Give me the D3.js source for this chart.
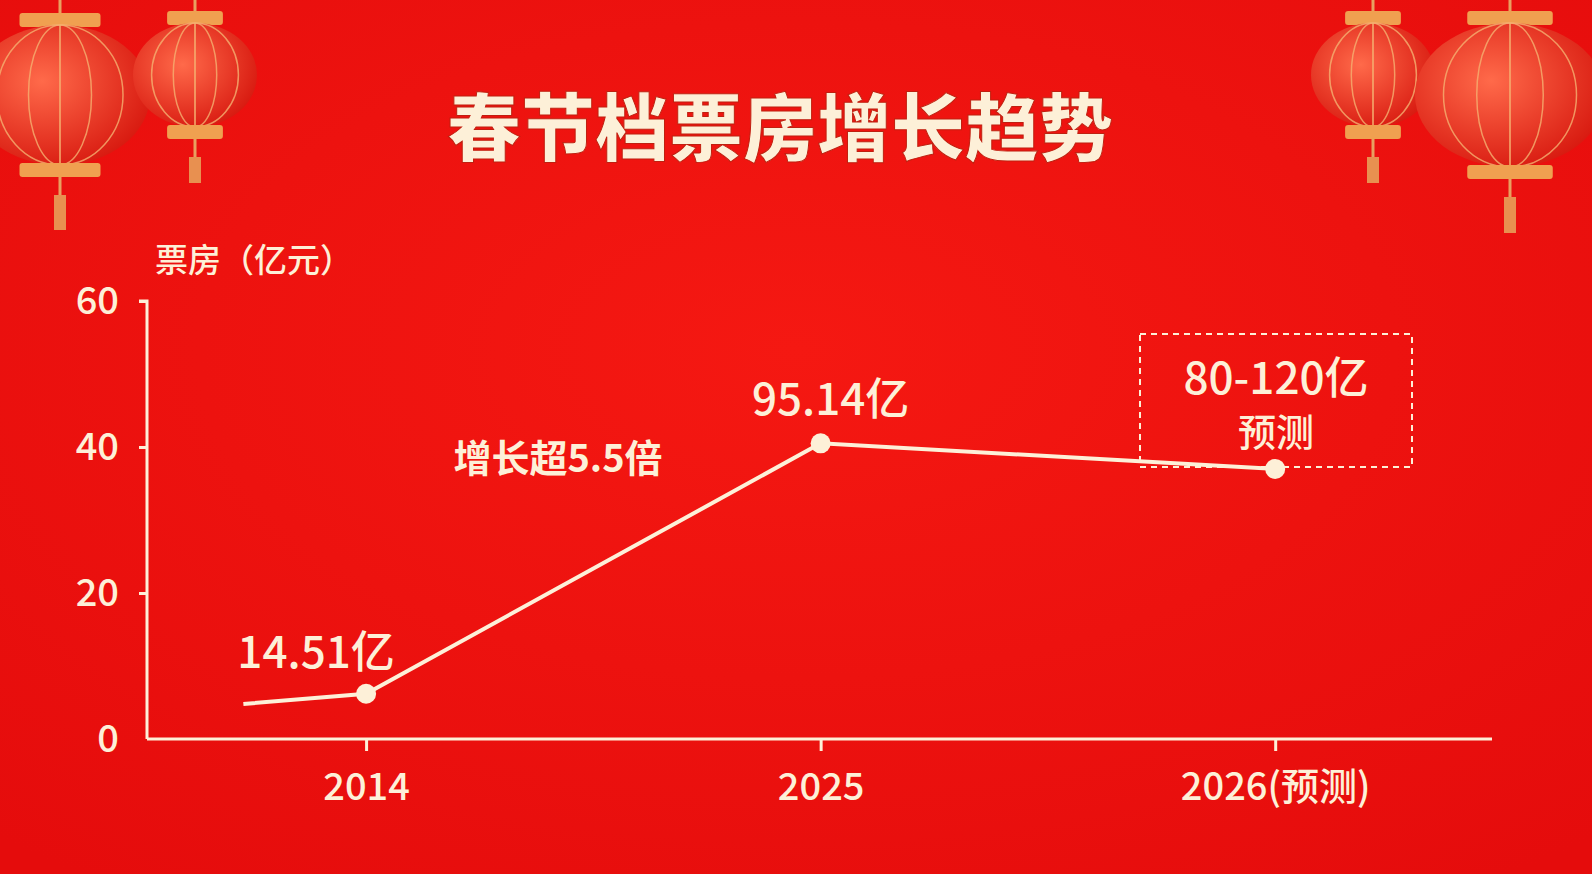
<!DOCTYPE html>
<html><head><meta charset="utf-8">
<script src="https://cdn.jsdelivr.net/npm/d3@7"></script>
<style>body{margin:0;overflow:hidden}svg{display:block}</style>
</head><body><svg id="c" width="1592" height="874"></svg>
<script>
// data (index 0 = 2014, 1 = 2025, 2 = 2026 forecast)
const pointIdx = [-0.27, 0, 1, 2];
const pointVal = [4.8, 6.2, 40.5, 37];
const dotted = [false, true, true, true];
const tickIdx = [0, 1, 2];
const tickLabels = ["2014", "2025", "2026(预测)"];
const yTicks = [0, 20, 40, 60];
const valueLabels = ["14.51亿", "95.14亿"];

const cream = "#fdf0d8";
const font = "'Noto Sans CJK SC', 'Noto Sans', sans-serif";
const svg = d3.select("#c");

const defs = svg.append("defs");
const bg = defs.append("radialGradient").attr("id", "bg").attr("cx", "50%").attr("cy", "40%").attr("r", "75%");
bg.append("stop").attr("offset", "0%").attr("stop-color", "#f51812");
bg.append("stop").attr("offset", "100%").attr("stop-color", "#e50c0c");
svg.append("rect").attr("width", 1592).attr("height", 874).attr("fill", "url(#bg)");

const lg = defs.append("radialGradient").attr("id", "lan").attr("cx", "40%").attr("cy", "40%").attr("r", "65%");
lg.append("stop").attr("offset", "0%").attr("stop-color", "#ff6a4a");
lg.append("stop").attr("offset", "100%").attr("stop-color", "#d81a10");

// lanterns
function lantern(cx, cy, rx, ry, top) {
  const g = svg.append("g");
  g.append("line").attr("x1", cx).attr("x2", cx).attr("y1", top).attr("y2", cy - ry).attr("stroke", "#e8a060").attr("stroke-width", 3);
  g.append("rect").attr("x", cx - rx * 0.45).attr("y", cy - ry - 12).attr("width", rx * 0.9).attr("height", 14).attr("rx", 3).attr("fill", "#f0a050");
  g.append("ellipse").attr("cx", cx).attr("cy", cy).attr("rx", rx).attr("ry", ry).attr("fill", "url(#lan)");
  [0.35, 0.7].forEach(k => {
    g.append("ellipse").attr("cx", cx).attr("cy", cy).attr("rx", rx * k).attr("ry", ry).attr("fill", "none").attr("stroke", "#f5b070").attr("stroke-width", 1.5).attr("opacity", 0.8);
  });
  g.append("line").attr("x1", cx).attr("x2", cx).attr("y1", cy - ry).attr("y2", cy + ry).attr("stroke", "#f5b070").attr("stroke-width", 1.5);
  g.append("rect").attr("x", cx - rx * 0.45).attr("y", cy + ry - 2).attr("width", rx * 0.9).attr("height", 14).attr("rx", 3).attr("fill", "#f0a050");
  g.append("line").attr("x1", cx).attr("x2", cx).attr("y1", cy + ry + 12).attr("y2", cy + ry + 30).attr("stroke", "#e8a060").attr("stroke-width", 3);
  g.append("rect").attr("x", cx - 6).attr("y", cy + ry + 30).attr("width", 12).attr("height", ry * 0.5).attr("fill", "#e89050");
}
lantern(60, 95, 90, 70, 0);
lantern(195, 75, 62, 52, 0);
lantern(1373, 75, 62, 52, 0);
lantern(1510, 95, 95, 72, 0);

// title
svg.append("text").attr("x", 780).attr("y", 155).attr("text-anchor", "middle")
  .attr("font-family", font).attr("font-weight", 900).attr("font-size", 74).attr("fill", cream)
  .attr("stroke", "#c02010").attr("stroke-width", 1).text("春节档票房增长趋势");

svg.append("text").attr("x", 155).attr("y", 272).attr("font-family", font).attr("font-weight", 500)
  .attr("font-size", 33).attr("fill", cream).text("票房（亿元）");

const x = d3.scaleLinear().domain([-0.482, 2.477]).range([147, 1492]);
const y = d3.scaleLinear().domain([0, 60]).range([739, 301]);

const ya = svg.append("g").attr("transform", "translate(147,0)")
  .call(d3.axisLeft(y).tickValues(yTicks).tickSize(8).tickPadding(20));
const xa = svg.append("g").attr("transform", "translate(0,739)")
  .call(d3.axisBottom(x).tickValues(tickIdx).tickFormat((d, i) => tickLabels[i]).tickSize(12).tickPadding(22));
[ya, xa].forEach(a => {
  a.selectAll("path,line").attr("stroke", cream).attr("stroke-width", 3);
  a.selectAll("text").attr("fill", cream).attr("font-family", font).attr("font-size", 38).attr("font-weight", 500);
});
xa.select(".domain").attr("d", "M147,0H1492");
ya.select(".domain").attr("d", "M-8,301H0V739");
ya.selectAll(".tick line").attr("x2", d => d === 0 ? 0 : -8);

// forecast box
svg.append("rect").attr("x", 1140).attr("y", 334).attr("width", 272).attr("height", 133)
  .attr("fill", "none").attr("stroke", cream).attr("stroke-width", 2).attr("stroke-dasharray", "6,5");
svg.append("text").attr("x", 1276).attr("y", 394).attr("text-anchor", "middle").attr("font-family", font)
  .attr("font-size", 44).attr("font-weight", 500).attr("fill", cream).text("80-120亿");
svg.append("text").attr("x", 1276).attr("y", 446).attr("text-anchor", "middle").attr("font-family", font)
  .attr("font-size", 38).attr("font-weight", 500).attr("fill", cream).text("预测");

const pts = pointIdx.map((d, i) => ({ i: d, v: pointVal[i], dot: dotted[i] }));
svg.append("path").datum(pts).attr("fill", "none").attr("stroke", cream).attr("stroke-width", 4)
  .attr("d", d3.line().x(d => x(d.i)).y(d => y(d.v)));
svg.selectAll(".dot").data(pts.filter(d => d.dot)).join("circle")
  .attr("cx", d => x(d.i)).attr("cy", d => y(d.v)).attr("r", 10).attr("fill", cream);

svg.append("text").attr("x", x(0) - 50).attr("y", y(pointVal[1]) - 26).attr("text-anchor", "middle")
  .attr("font-family", font).attr("font-size", 44).attr("font-weight", 500).attr("fill", cream).text(valueLabels[0]);
svg.append("text").attr("x", x(1) + 10).attr("y", y(pointVal[2]) - 28).attr("text-anchor", "middle")
  .attr("font-family", font).attr("font-size", 44).attr("font-weight", 500).attr("fill", cream).text(valueLabels[1]);
svg.append("text").attr("x", 558).attr("y", 472).attr("text-anchor", "middle")
  .attr("font-family", font).attr("font-size", 38).attr("font-weight", 700).attr("fill", cream).text("增长超5.5倍");
</script></body></html>
